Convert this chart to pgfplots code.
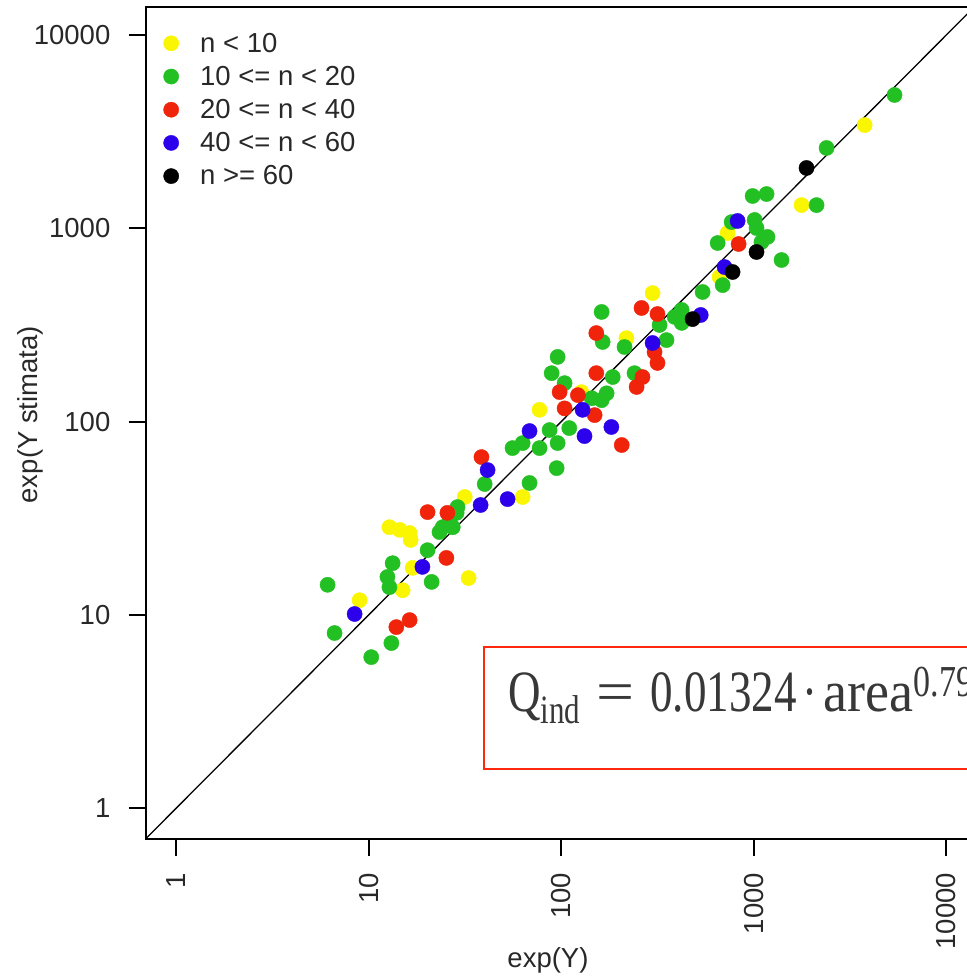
\documentclass[border=0pt]{standalone}
\usepackage{fontspec}
\setmainfont{Liberation Sans}
\newfontfamily\fmlafont{Liberation Serif}
\usepackage{graphicx}
\usepackage{pgfplots}
\pgfplotsset{compat=1.18}

\definecolor{ptyellow}{RGB}{250,245,0}
\definecolor{ptgreen}{RGB}{34,192,34}
\definecolor{ptred}{RGB}{240,36,10}
\definecolor{ptblue}{RGB}{45,0,235}
\definecolor{ptblack}{RGB}{0,0,0}
\definecolor{boxred}{RGB}{255,40,15}
\definecolor{labgray}{RGB}{40,40,40}

\pgfplotsset{
  ptmark/.style={only marks, mark=*, mark size=7.6bp,
    legend image code/.code={\draw[##1] plot coordinates {(0bp,0bp)};}},
}

\begin{document}
\begin{tikzpicture}[x=1bp,y=1bp]
\begin{axis}[
  at={(145.5bp,137bp)}, anchor=south west,
  scale only axis, width=831.6bp, height=832bp,
  xmode=log, ymode=log,
  xmin=0.692, xmax=14454, ymin=0.692, ymax=13964,
  xtick={1,10,100,1000,10000}, xticklabels={1,10,100,1000,10000},
  ytick={1,10,100,1000,10000}, yticklabels={1,10,100,1000,10000},
  xminorticks=false, yminorticks=false,
  tick pos=left, tick align=outside, major tick length=17bp,
  major tick style={line width=2bp, black},
  axis line style={line width=2bp},
  font=\fontsize{27.5bp}{33bp}\selectfont,
  tick label style={text=labgray},
  xticklabel style={rotate=90, anchor=east, inner sep=0pt},
  yticklabel style={anchor=east, inner sep=0pt},
  xticklabel shift=17bp, yticklabel shift=18bp,
  xlabel={exp(Y)},
  xlabel style={at={(axis description cs:0.484,-0.155)}, anchor=base, text=labgray},
  ylabel={exp(Y stimata)},
  ylabel style={at={(axis description cs:-0.139,0.51)}, anchor=center, rotate=0, text=labgray},
  legend cell align=left,
  legend style={at={(axis description cs:0.0215,0.969)}, anchor=north west,
    draw=none, fill=none, inner xsep=0pt, inner ysep=0pt,
    nodes={inner sep=0pt, text=labgray},
    row sep=12.5bp,
    /tikz/every odd column/.append style={column sep=21.4bp}},
]
% observed vs. estimated values, grouped by sample size n
\addplot[ptmark, color=ptyellow] coordinates {
  (3767,3420) (1770,1318) (731,945) (664,560) (298,462) (218,270)
  (127,142) (77.1,115) (63.0,40.7) (31.5,40.7) (12.8,28.4) (14.5,27.5)
  (16.3,26.5) (16.5,24.4) (16.9,17.5) (15.0,13.4) (8.96,11.9) (33.0,15.5)
};
\addlegendentry{n < 10}
\addplot[ptmark, color=ptgreen] coordinates {
  (5383,4894) (2388,2603) (2118,1318) (986,1469) (1165,1504) (767,1077)
  (1010,1104) (1033,1003) (1178,902) (1096,849) (649,839) (1393,685)
  (689,508) (542,468) (422,378) (388,348) (422,324) (324,316)
  (352,264) (164,258) (213,243) (162,369) (185,170) (240,178)
  (95.7,216) (89.1,178) (104,158) (172,140) (162,129) (144,132)
  (86.9,90.4) (110,92.5) (95.7,77.4) (77.1,72.9) (63.0,77.4) (55.8,72.9)
  (94.6,57.4) (68.4,48.1) (40.0,47.5) (28.9,36.1) (28.6,33.7) (26.3,30.9)
  (24.2,28.4) (23.3,26.8) (27.3,28.4) (20.2,21.6) (13.3,18.5) (12.5,15.7)
  (12.8,13.9) (21.2,14.8) (6.11,14.3) (6.64,8.05) (13.1,7.14) (10.3,6.04)
};
\addlegendentry{10 <= n < 20}
\addplot[ptmark, color=ptred] coordinates {
  (834,829) (261,387) (316,360) (152,287) (305,229) (316,201)
  (152,178) (264,170) (246,151) (98.0,142) (122,137) (104,117)
  (149,108) (206,75.6) (38.5,65.5) (20.2,34.0) (25.6,33.7) (25.3,19.7)
  (13.9,8.64) (16.3,9.39)
};
\addlegendentry{20 <= n < 40}
\addplot[ptmark, color=ptblue] coordinates {
  (824,1091) (705,630) (530,356) (298,255) (129,115) (68.4,89.3)
  (132,84.1) (182,93.7) (41.4,56.1) (52.6,39.7) (38.1,37.0) (19.0,17.7)
  (8.44,10.1)
};
\addlegendentry{40 <= n < 60}
\addplot[ptmark, color=ptblack] coordinates {
  (1879,2051) (1033,754) (776,594) (481,339)
};
\addlegendentry{n >= 60}
% bisector y = x
\addplot[forget plot, black, line width=1.3bp] coordinates {(0.5,0.5) (30000,30000)};
\end{axis}
% regression formula box
\draw[boxred, line width=2bp, fill=white] (484,207) rectangle (1000,329);
\node[anchor=base west, text=black!78, inner sep=0pt] at (508,264)
  {\scalebox{1}[1.3]{\fmlafont\fontsize{45bp}{50bp}\selectfont
   Q\raisebox{-8.5bp}{\fontsize{31bp}{36bp}\selectfont ind}\hspace{16bp}%
   \scalebox{1.5}[1]{=}\hspace{16bp}0.01324\hspace{6bp}·\hspace{6bp}%
   \scalebox{1.2}[1]{area}\raisebox{12bp}{\fontsize{34bp}{38bp}\selectfont 0.79}}};
\pgfresetboundingbox
\path[use as bounding box] (0,0) rectangle (967,976);
\end{tikzpicture}
\end{document}
